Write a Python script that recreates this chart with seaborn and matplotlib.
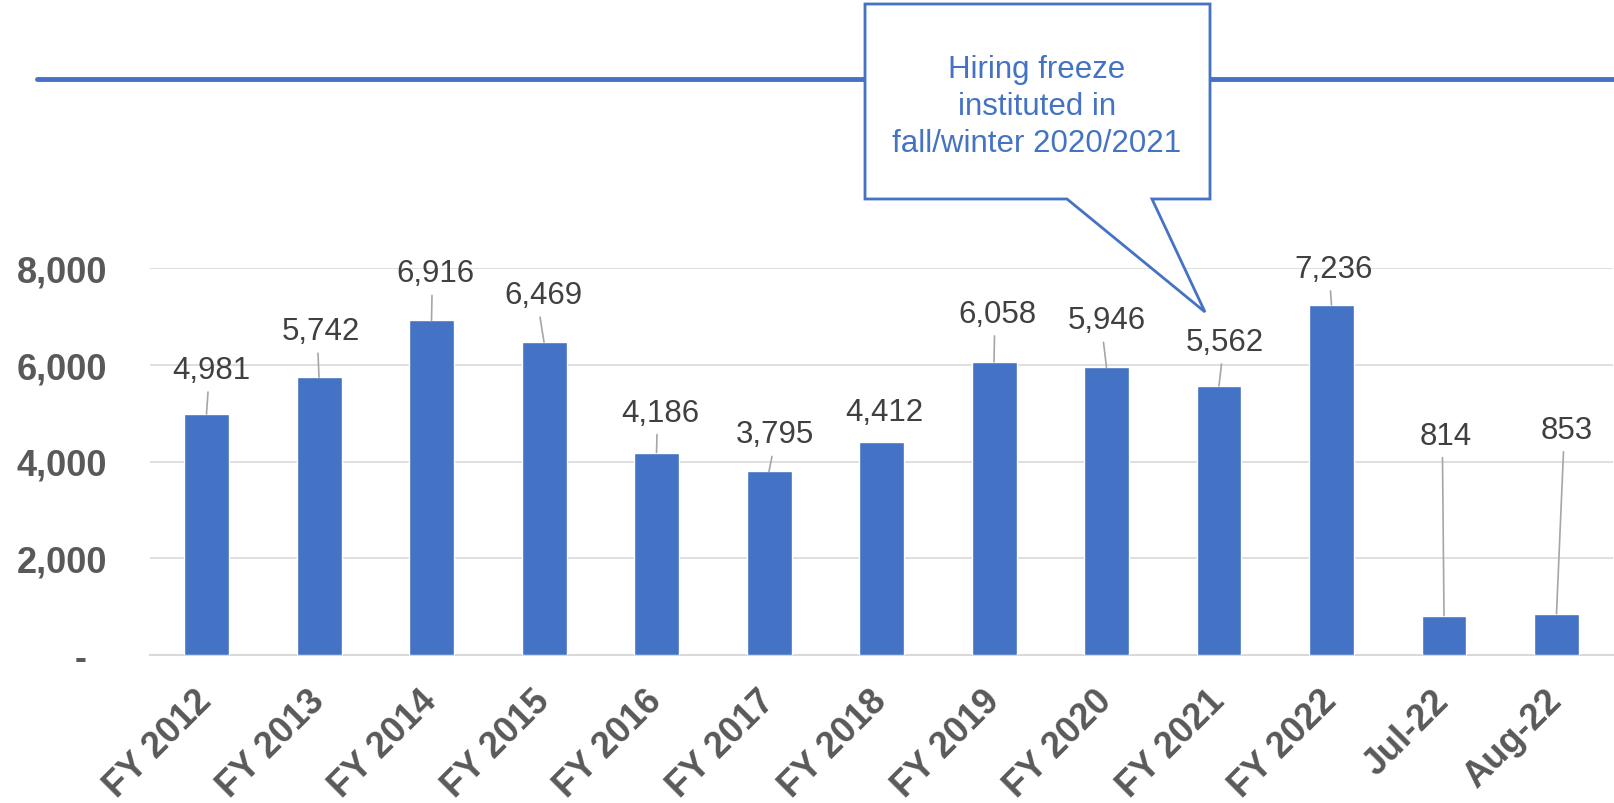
# =========================================================
# HIRING BY FISCAL YEAR - BAR CHART WITH CALLOUT
# =========================================================

import numpy as np
import matplotlib.pyplot as plt
import seaborn as sns
from matplotlib.lines import Line2D
from matplotlib.patches import Polygon


# =========================================================
# 1. DATA
# =========================================================

categories = ['FY 2012', 'FY 2013', 'FY 2014', 'FY 2015', 'FY 2016',
              'FY 2017', 'FY 2018', 'FY 2019', 'FY 2020', 'FY 2021',
              'FY 2022', 'Jul-22', 'Aug-22']

hires = [4981, 5742, 6916, 6469, 4186, 3795, 4412,
         6058, 5946, 5562, 7236, 814, 853]

y_ticks = [0, 2000, 4000, 6000, 8000]
y_tick_labels = ['-  ', '2,000', '4,000', '6,000', '8,000']

note_text = 'Hiring freeze\ninstituted in\nfall/winter 2020/2021'

# label offsets (pixels) from the top of each bar, as placed in the original
label_dx = [4.5, 2, 3.5, -1, 3.5, 6, 2.5, 3.5, 0, 5.5, 2, 1.5, 10]
label_dy = [44, 46, 47, 47, 40, 37, 30, 48, 47, 44, 36, 180, 184]


# =========================================================
# 2. STYLE
# =========================================================

sns.set_style('white')
plt.rcParams['font.family'] = ['Liberation Sans', 'DejaVu Sans']

blue = '#4472c4'
grid_gray = '#d9d9d9'
label_gray = '#404040'
tick_gray = '#595959'

fig = plt.figure(figsize=(16.14, 8.04), dpi=100)
W, H = 1614, 804

ax = fig.add_axes([150.25 / W, 1 - 656 / H, 1462.5 / W, 387 / H])


# =========================================================
# 3. BARS
# =========================================================

sns.barplot(
    x=categories,
    y=hires,
    color=blue,
    saturation=1,
    width=0.4,
    ax=ax,
    zorder=3
)

ax.set_xlim(-0.5, len(categories) - 0.5)
ax.set_ylim(0, 8000)

ax.set_yticks(y_ticks)
ax.set_yticklabels(y_tick_labels, fontsize=26, fontweight='bold', color=tick_gray)
ax.tick_params(axis='y', length=0, pad=31)

ax.set_xticks(range(len(categories)))
ax.set_xticklabels(categories, fontsize=26, fontweight='bold', color=tick_gray,
                   rotation=45, ha='right', va='center', rotation_mode='anchor')
ax.tick_params(axis='x', length=0, pad=29)

ax.yaxis.grid(True, color=grid_gray, linewidth=1.2, zorder=0)
ax.set_axisbelow(True)

for side in ['top', 'right', 'left']:
    ax.spines[side].set_visible(False)
ax.spines['bottom'].set_color(grid_gray)
ax.spines['bottom'].set_linewidth(1.5)


# =========================================================
# 4. DATA LABELS WITH LEADER LINES
# =========================================================

for i, valor in enumerate(hires):

    dx = label_dx[i]
    dy = label_dy[i]

    ax.annotate(
        f'{valor:,}',
        xy=(i, valor),
        xytext=(dx, dy),
        textcoords='offset pixels',
        ha='center', va='center',
        fontsize=22.5, color=label_gray,
        annotation_clip=False
    )

    # leader line only when the label sits far from the bar
    if dy - 22 > 10:
        ax.annotate(
            '',
            xy=(i, valor),
            xytext=(dx - 3, dy - 22),
            textcoords='offset pixels',
            arrowprops=dict(arrowstyle='-', color='#a6a6a6', lw=1.2,
                            shrinkA=0, shrinkB=0),
            annotation_clip=False
        )


# =========================================================
# 5. TOP LINE AND CALLOUT
# =========================================================

fig.add_artist(Line2D([37 / W, 1], [1 - 80 / H, 1 - 80 / H],
                      color=blue, linewidth=3.5, zorder=1))

callout_px = [(865, 5), (1210, 5), (1210, 200), (1152, 200),
              (1205, 313), (1067, 200), (865, 200)]
callout = Polygon([(x / W, 1 - y / H) for x, y in callout_px],
                  closed=True, transform=fig.transFigure,
                  facecolor='white', edgecolor=blue, linewidth=2, zorder=5)
fig.add_artist(callout)

fig.text(1037 / W, 1 - 107 / H, note_text, ha='center', va='center',
         fontsize=22.5, color=blue, linespacing=1.3, zorder=6)


# =========================================================
# 6. SAVE
# =========================================================

fig.savefig('out.png', dpi=100)
